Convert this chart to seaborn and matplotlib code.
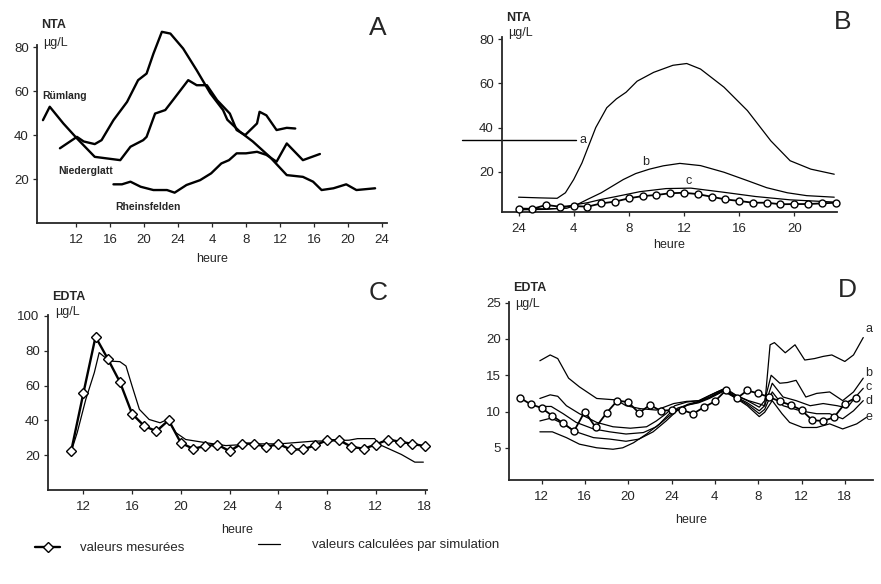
import numpy as np
import seaborn as sns
import matplotlib
matplotlib.use("Agg")
import matplotlib.pyplot as plt
from matplotlib.lines import Line2D

# ---- panel A : NTA measured at three stations (hours, continuous over 2 days)
rumlang_h = [8.1, 8.9, 10.5, 12.1, 14.2, 15.6, 17.2, 18.4, 19.9, 20.3, 21.3, 22.5, 23.5, 25.2, 26.2,
             27.4, 28.6, 30.1, 30.9, 31.9, 33.3, 33.6, 34.4, 35.6, 36.8, 37.8]
rumlang_v = [46.8, 52.9, 45.3, 38.5, 30.1, 29.4, 28.6, 34.7, 37.7, 39.2, 49.8, 51.4, 56.4, 65, 62.7,
             62.7, 55.9, 49.8, 42.3, 40, 45.3, 50.6, 49, 42.3, 43.3, 43]
nieder_h = [10.1, 12.1, 12.9, 14.2, 15.0, 16.4, 18.0, 19.3, 20.3, 21.1, 22.1, 23.1, 24.6, 26.2, 27.8,
            29.3, 29.8, 31.3, 32.8, 34.8, 36.8, 38.7, 39.9, 40.9, 42.3, 43.8, 45.0, 47.2]
nieder_v = [34, 39.2, 37.1, 35.9, 37.7, 46.8, 55.1, 65, 68, 77, 87, 86.2, 79.4, 69.5, 59,
            51.4, 47, 41.5, 37.1, 30.1, 21.8, 21, 18.8, 15, 15.8, 17.6, 15, 15.8]
rhein_h = [16.4, 17.4, 18.4, 19.6, 21.1, 22.7, 23.6, 25.0, 26.6, 27.9, 29.1, 30.0, 30.9, 32.0, 33.3,
           34.4, 35.6, 36.8, 38.7, 40.7]
rhein_v = [17.6, 17.6, 18.8, 16.5, 15, 15, 13.8, 17.3, 19.5, 22.6, 27.1, 28.6, 31.7, 31.7, 32.4,
           31, 27.9, 36.2, 28.6, 31.4]

# ---- panel B : NTA simulated (a, b, c) and measured
b_a_h = [24, 25.5, 26.8, 27.4, 28, 28.6, 29.6, 30.4, 31.1, 31.8, 32.6, 33.8, 35.2, 36.2, 37.2,
         38.9, 40.6, 42.3, 43.7, 45.2, 46.9]
b_a_v = [8.5, 8.2, 8.0, 10.5, 16.5, 24, 40, 49, 53, 56, 61, 65, 68.2, 69, 66.5,
         58.3, 47.7, 34, 25, 21.2, 18.9]
b_b_h = [24, 26, 27.5, 28.2, 29, 30, 30.8, 31.6, 32.5, 33.5, 34.5, 35.7, 37.2, 38.9, 40.6, 42,
         43.5, 44.9, 46.9]
b_b_v = [3.5, 3.2, 3.5, 5, 7.5, 10.5, 13.5, 16.5, 19.2, 21.2, 22.7, 23.8, 22.8, 19.8, 16, 12.8,
         10.5, 9.2, 8.5]
b_c_h = [24, 26, 27, 28, 29, 30, 31, 32.8, 34.7, 36.5, 38.8, 41.2, 43.7, 46.9]
b_c_v = [2.8, 3.0, 3.5, 5.0, 6.0, 7.5, 8.7, 11, 12.4, 12.6, 10.8, 8.8, 7.3, 6.3]
b_meas_h = list(range(24, 48))
b_meas_v = [3.2, 3.2, 5.0, 4.2, 4.5, 4.2, 5.7, 6.5, 8, 9, 9.5, 10.3, 10.5, 9.9, 8.7, 7.5,
            6.8, 6, 6, 5.3, 5.4, 5.4, 5.7, 6]
b_leader_h = [19.9, 28.2]
b_leader_v = [34.4, 34.4]

# ---- panel C : EDTA measured and simulated
c_meas_h = list(range(11, 41))
c_meas_v = [22.3, 55.5, 88, 75.4, 62, 43.8, 36.7, 33.8, 40.1, 27.1, 23.7, 25.2, 26.1, 22.3, 26.7,
            26.7, 24.6, 26.5, 23.3, 23.3, 25.6, 28.6, 28.6, 24.8, 23.7, 26.1, 29, 27.7, 26.5, 25.2]
c_sim_h = [11, 11.5, 12.2, 12.9, 13.3, 13.8, 14.3, 15, 15.5, 16, 16.6, 17.4, 18.3, 18.9, 19.6, 20.4,
           22.1, 23.7, 26, 28.1, 30.8, 33.8, 34.5, 35.9, 36.3, 38.1, 39.2, 39.9]
c_sim_v = [22, 33, 52, 67.4, 78.9, 76, 74, 73.7, 71.2, 59.7, 46.3, 40.5, 38.6, 40.5, 32.9, 29,
           27.1, 25.5, 26.5, 26.5, 28, 28.6, 29.5, 29.5, 26.1, 20.4, 16, 16]

# ---- panel D : EDTA measured and simulated (a..e)
d_meas_h = list(range(10, 42))
d_meas_v = [11.9, 11.0, 10.5, 9.4, 8.4, 7.3, 10.0, 7.8, 9.8, 11.5, 11.3, 9.8, 10.9, 10.1, 10.2, 10.2,
            9.7, 10.6, 11.4, 12.9, 11.8, 12.9, 12.5, 12.0, 11.4, 10.9, 10.2, 8.8, 8.7, 9.2, 11.1, 11.9]
d_a_h = [11.85, 12.8, 13.5, 14.5, 15.5, 17.1, 18.9, 19.8, 21.1, 22.6, 24.2, 25.4, 26.6, 27.5, 28.2,
         29, 30, 31.1, 32, 32.6, 33.1, 33.5, 34.5, 35.4, 36.3, 37.2, 38, 38.8, 40, 40.8, 41.7]
d_a_v = [17, 17.8, 17.3, 14.6, 13.4, 11.8, 11.6, 10.8, 10.4, 10.2, 11.1, 11.4, 11.5, 12.2, 12.7,
         13.2, 12.2, 11.5, 11.1, 10.8, 19.2, 19.5, 18.1, 19.2, 17.1, 17.3, 17.6, 17.8, 16.9, 17.8, 20.2]
d_b_h = [11.85, 12.8, 13.5, 14.3, 15.5, 17.1, 18.6, 20.2, 21.7, 22.6, 23.5, 24.3, 25.4, 26.5, 27.5,
         28.8, 30, 31, 32.1, 32.6, 33.2, 34, 34.7, 35.5, 36.4, 37.4, 38.6, 39.8, 40.8, 41.7]
d_b_v = [11.8, 12.3, 12.1, 10.8, 9.7, 8.5, 7.9, 7.7, 7.9, 8.7, 9.7, 10.8, 11.3, 11.5, 12.2,
         13.1, 12.2, 11.5, 10.6, 11.5, 15, 13.9, 14, 14.3, 12, 12.5, 12.7, 11.5, 12.7, 14.6]
d_c_h = [11.85, 12.9, 14, 15.2, 16.8, 18.3, 19.8, 21.4, 22.6, 23.8, 24.6, 25.5, 26.5, 27.5, 28.8,
         30, 31, 32.1, 32.6, 33.3, 34.3, 35.5, 36.8, 38, 39.3, 40.2, 41.1, 41.7]
d_c_v = [10.7, 10.7, 9.7, 8.5, 7.6, 7.2, 6.9, 7.1, 7.9, 9.4, 10.3, 11, 11.4, 12, 13,
         12, 11.2, 10.1, 10.8, 13.9, 12, 11.5, 10.8, 11.1, 10.8, 10.5, 12.2, 13.2]
d_d_h = [11.85, 12.9, 14, 15.2, 16.8, 18.3, 19.8, 21, 22.3, 23.5, 24.5, 25.5, 26.5, 27.5, 28.8,
         30, 31, 32.1, 32.6, 33.3, 34.3, 35.9, 37.4, 38.6, 39.8, 40.8, 41.7]
d_d_v = [8.7, 9.1, 8.3, 7.2, 6.4, 6.2, 5.9, 6.2, 7.2, 8.7, 10.1, 10.9, 11.3, 11.9, 12.9,
         11.9, 11, 9.7, 10.3, 12.7, 10.8, 10.1, 9.7, 9.7, 9, 10.1, 11.5]
d_e_h = [11.85, 13, 14.3, 15.5, 17.1, 18.6, 19.5, 20.5, 21.7, 22.9, 23.8, 24.6, 25.5, 26.5, 27.5,
         28.8, 30, 31, 32.1, 32.6, 33.3, 34.2, 34.9, 36.1, 37.4, 38.6, 39.8, 41.1, 42]
d_e_v = [7.2, 7.2, 6.4, 5.5, 5, 4.8, 5, 5.7, 6.9, 8.3, 9.7, 10.5, 10.9, 11.2, 11.8,
         12.8, 11.8, 10.8, 9.3, 9.9, 11.5, 9.7, 8.5, 7.8, 7.8, 8.3, 7.6, 8.3, 9.2]

# tick labels (hours of day on a continuous time axis)
ab_ticks = [12, 16, 20, 24, 28, 32, 36, 40, 44, 48]
ab_labels = ["12", "16", "20", "24", "4", "8", "12", "16", "20", "24"]
b_ticks = [24, 28, 32, 36, 40, 44]
b_labels = ["24", "4", "8", "12", "16", "20"]
cd_ticks = [12, 16, 20, 24, 28, 32, 36, 40]
cd_labels = ["12", "16", "20", "24", "4", "8", "12", "18"]

W, H = 881, 584


def px_axes(fig, left, top, right, bottom):
    return fig.add_axes([left / W, 1 - bottom / H, (right - left) / W, (bottom - top) / H])


def measured(ax, h, v, marker=None, lw=1.7):
    sns.lineplot(x=h, y=v, ax=ax, color="black", linewidth=lw, marker=marker, markersize=5,
                 markerfacecolor="white", markeredgecolor="black", markeredgewidth=1.0,
                 legend=False, zorder=3, clip_on=False)


def simulated(ax, h, v):
    sns.lineplot(x=h, y=v, ax=ax, color="black", linewidth=0.9, legend=False, zorder=2,
                 clip_on=False)


def style(ax, xlim, ylim, xticks, xlabels, yticks, unit, sub_y, labelpad):
    ax.set_xlim(*xlim)
    ax.set_ylim(*ylim)
    ax.set_xticks(xticks, xlabels)
    ax.set_yticks(yticks)
    ax.tick_params(axis="both", length=3, width=0.9, pad=3, labelsize=9.5, direction="out")
    ax.tick_params(axis="x", pad=5)
    ax.set_xlabel("heure", fontsize=9, labelpad=labelpad)
    ax.set_ylabel("")
    for s in ("top", "right"):
        ax.spines[s].set_visible(False)
    for s in ("left", "bottom"):
        ax.spines[s].set_linewidth(1.3)
    ax.text(0.012, sub_y[0], unit, transform=ax.transAxes, fontsize=9, fontweight="bold",
            ha="left", va="center")
    ax.text(0.018, sub_y[1], "µg/L", transform=ax.transAxes, fontsize=9, ha="left", va="center")


sns.set_theme(style="ticks")
plt.rcParams["font.family"] = ["Liberation Sans", "DejaVu Sans"]
fig = plt.figure(figsize=(W / 100, H / 100), dpi=100)

# A
axA = px_axes(fig, 37, 45, 387, 223)
measured(axA, rumlang_h, rumlang_v)
measured(axA, nieder_h, nieder_v)
measured(axA, rhein_h, rhein_v)
axA.text(8.0, 58, "Rümlang", fontsize=7.5, fontweight="bold", va="center")
axA.text(9.9, 23.8, "Niederglatt", fontsize=7.5, fontweight="bold", va="center")
axA.text(16.6, 7.4, "Rheinsfelden", fontsize=7.5, fontweight="bold", va="center")
style(axA, (7.4, 48.6), (0, 81), ab_ticks, ab_labels, [20, 40, 60, 80], "NTA", (1.11, 1.01), 5)

# B
axB = px_axes(fig, 502, 37, 837, 212)
simulated(axB, b_a_h, b_a_v)
simulated(axB, b_b_h, b_b_v)
simulated(axB, b_c_h, b_c_v)
measured(axB, b_meas_h, b_meas_v, marker="o", lw=1.3)
axB.plot(b_leader_h, b_leader_v, color="black", linewidth=1.0, clip_on=False)
axB.text(28.4, 34.6, "a", fontsize=9, va="center")
axB.text(33.0, 24.5, "b", fontsize=9, va="center")
axB.text(36.1, 16.0, "c", fontsize=9, va="center")
style(axB, (22.8, 47.1), (1.8, 81), b_ticks, b_labels, [20, 40, 60, 80], "NTA", (1.11, 1.023), 3)

# C
axC = px_axes(fig, 48, 315, 427, 490)
simulated(axC, c_sim_h, c_sim_v)
measured(axC, c_meas_h, c_meas_v, marker="D")
style(axC, (9.1, 40.2), (0, 100.5), cd_ticks, cd_labels, [20, 40, 60, 80, 100], "EDTA",
      (1.105, 1.015), 8)

# D
axD = px_axes(fig, 509, 302, 873, 480)
for hh, vv in [(d_a_h, d_a_v), (d_b_h, d_b_v), (d_c_h, d_c_v), (d_d_h, d_d_v), (d_e_h, d_e_v)]:
    simulated(axD, hh, vv)
measured(axD, d_meas_h, d_meas_v, marker="o", lw=1.3)
for lab, yv in zip("abcde", [21.4, 15.3, 13.4, 11.4, 9.3]):
    axD.text(41.9, yv, lab, fontsize=9, va="center", clip_on=False)
style(axD, (9.0, 42.6), (0.56, 25.1), cd_ticks, cd_labels, [5, 10, 15, 20, 25], "EDTA",
      (1.08, 0.99), 8)

# panel letters
for letter, x, y in [("A", 378, 28), ("B", 843, 22), ("C", 378, 293), ("D", 847, 290)]:
    fig.text(x / W, 1 - y / H, letter, fontsize=19, ha="center", va="center")

# legend
h_meas = Line2D([], [], color="black", linewidth=1.7, marker="D", markersize=5,
                markerfacecolor="white", markeredgecolor="black")
h_sim = Line2D([], [], color="black", linewidth=0.9)
fig.legend([h_meas], ["valeurs mesurées"], loc="center left", bbox_to_anchor=(35 / W, 1 - 548 / H),
           frameon=False, fontsize=9.5, handlelength=1.9, handletextpad=1.5, borderpad=0,
           borderaxespad=0)
fig.legend([h_sim], ["valeurs calculées par simulation"], loc="center left",
           bbox_to_anchor=(258 / W, 1 - 545 / H), frameon=False, fontsize=9.5,
           handlelength=1.7, handletextpad=2.4, borderpad=0, borderaxespad=0)

fig.savefig("out.png", dpi=100)
